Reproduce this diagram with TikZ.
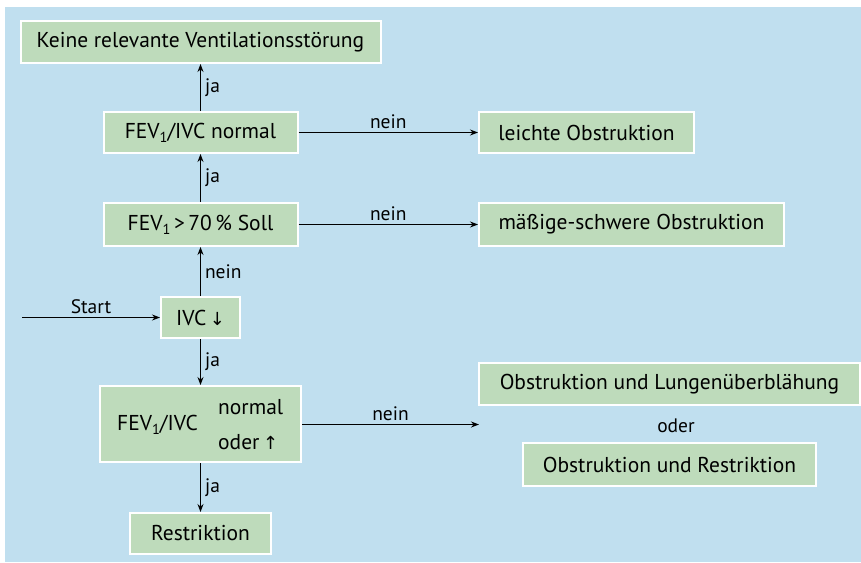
\documentclass[tikz,border=0pt]{standalone}
\usepackage{fontspec}
\setmainfont{PT Sans}
\newfontfamily\arrowfont{DejaVu Sans}
\usetikzlibrary{arrows.meta}
\definecolor{bgblue}{RGB}{192,223,239}
\definecolor{boxgreen}{RGB}{190,219,187}
\newcommand\lowone{\raisebox{-0.38ex}{\fontsize{14.5}{14.5}\selectfont 1}}
\newcommand\arrdown{{\arrowfont\fontsize{18}{18}\selectfont ↓}}
\newcommand\arrup{{\arrowfont\fontsize{18}{18}\selectfont ↑}}
\begin{document}
\begin{tikzpicture}[x=1pt,y=-1pt,
  box/.style={fill=boxgreen,draw=white,line width=2pt,inner sep=0pt,
    font=\fontsize{21.5}{25}\selectfont,text=black},
  lbl/.style={font=\fontsize{19.5}{23}\selectfont,text=black,inner sep=3pt},
  txt/.style={font=\fontsize{21.5}{25}\selectfont,text=black,inner sep=0pt},
  conn/.style={line width=1.1pt,-{Stealth[length=8pt,width=6pt]}}]
\useasboundingbox (0,0) rectangle (861,562);
\fill[bgblue] (5,7) rectangle (861,562);
% boxes
\node[box,minimum width=360pt,minimum height=42pt] (keine) at (200.5,42) {Keine relevante Ventilationsstörung};
\node[box,minimum width=194pt,minimum height=41pt] (fevn) at (200.5,132.5) {FEV\lowone/IVC normal};
\node[box,minimum width=215pt,minimum height=41pt] (leicht) at (586.5,132.5) {leichte Obstruktion};
\node[box,minimum width=194pt,minimum height=43pt] (fevs) at (200.5,224.5) {FEV\lowone\,>\,70\,\%\ Soll};
\node[box,minimum width=305pt,minimum height=43pt] (mass) at (631.5,224.5) {mäßige-schwere Obstruktion};
\node[box,minimum width=79pt,minimum height=41pt] (ivc) at (200.5,317.5) {IVC\,\arrdown};
\node[box,minimum width=201pt,minimum height=76pt] (fevo) at (200.5,424) {};
\node[txt] (fevoa) at (157.5,425) {FEV\lowone/IVC};
\node[txt,anchor=west] (fevob) at (218,407) {normal};
\node[txt,anchor=west] (fevoc) at (218,442) {oder\,\arrup};
\node[box,minimum width=141pt,minimum height=41pt] (restr) at (200.5,533.5) {Restriktion};
\node[box,minimum width=381pt,minimum height=42pt] (lunge) at (669.5,384) {Obstruktion und Lungenüberblähung};
\node[lbl] (oder) at (676,426) {oder};
\node[box,minimum width=293pt,minimum height=43pt] (obres) at (669.5,464.5) {Obstruktion und Restriktion};
% connectors
\coordinate (start) at (22,317.5);
\coordinate (lowend) at (479,424.5);
\draw[conn] (start) -- node[lbl,above] {Start} (ivc.west);
\draw[conn] (ivc.north) -- node[lbl,right,xshift=1pt] {nein} (fevs.south);
\draw[conn] (fevs.north) -- node[lbl,right,xshift=1pt] {ja} (fevn.south);
\draw[conn] (fevn.north) -- node[lbl,right,xshift=1pt] {ja} (keine.south);
\draw[conn] (fevn.east) -- node[lbl,above] {nein} (leicht.west);
\draw[conn] (fevs.east) -- node[lbl,above] {nein} (mass.west);
\draw[conn] (ivc.south) -- node[lbl,right,xshift=1pt] {ja} (fevo.north);
\draw[conn] (fevo.south) -- node[lbl,right,xshift=1pt] {ja} (restr.north);
\draw[conn] (fevo.east |- lowend) -- node[lbl,above] {nein} (lowend);
\end{tikzpicture}
\end{document}
